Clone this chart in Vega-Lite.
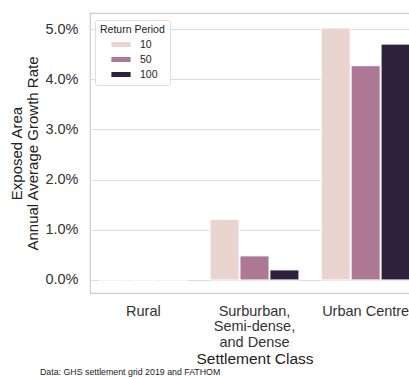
{
  "$schema": "https://vega.github.io/schema/vega-lite/v6.json",
  "autosize": "none",
  "width": 329,
  "height": 280,
  "padding": {"left": 90, "top": 13, "right": -10, "bottom": 84},
  "background": "white",
  "config": {
    "font": "Liberation Sans",
    "view": {"stroke": "#cccccc", "strokeWidth": 1.2},
    "axis": {"domain": false, "ticks": false, "gridColor": "#dddddd", "gridWidth": 1.2}
  },
  "title": {
    "text": "Data: GHS settlement grid 2019 and FATHOM",
    "orient": "bottom",
    "anchor": "start",
    "frame": "group",
    "fontSize": 8.8,
    "fontWeight": "normal",
    "color": "#222222",
    "dx": -50,
    "offset": 1
  },
  "data": {
    "values": [
      {"cls": "Rural", "rp": "10", "rate": 0},
      {"cls": "Rural", "rp": "50", "rate": 0},
      {"cls": "Rural", "rp": "100", "rate": 0},
      {"cls": "Surburban, Semi-dense, and Dense", "rp": "10", "rate": 0.0121},
      {"cls": "Surburban, Semi-dense, and Dense", "rp": "50", "rate": 0.0048},
      {"cls": "Surburban, Semi-dense, and Dense", "rp": "100", "rate": 0.0020},
      {"cls": "Urban Centre", "rp": "10", "rate": 0.0502},
      {"cls": "Urban Centre", "rp": "50", "rate": 0.0427},
      {"cls": "Urban Centre", "rp": "100", "rate": 0.0470}
    ]
  },
  "mark": {"type": "bar", "stroke": "white", "strokeWidth": 1},
  "encoding": {
    "x": {
      "field": "cls",
      "type": "nominal",
      "sort": ["Rural", "Surburban, Semi-dense, and Dense", "Urban Centre"],
      "scale": {"paddingInner": 0.2, "paddingOuter": 0.08},
      "axis": {
        "title": "Settlement Class",
        "titleFontSize": 15.5,
        "titleFontWeight": "normal",
        "titleColor": "#222222",
        "titlePadding": 3,
        "labelFontSize": 14.5,
        "labelColor": "#333333",
        "labelAngle": 0,
        "labelPadding": 11,
        "labelLineHeight": 15.5,
        "labelExpr": "datum.value == 'Surburban, Semi-dense, and Dense' ? ['Surburban,', 'Semi-dense,', 'and Dense'] : datum.label",
        "grid": false
      }
    },
    "xOffset": {
      "field": "rp",
      "type": "nominal",
      "sort": ["10", "50", "100"],
      "scale": {"paddingInner": 0.03}
    },
    "y": {
      "field": "rate",
      "type": "quantitative",
      "scale": {"domain": [-0.0026, 0.0532], "nice": false, "zero": false},
      "axis": {
        "title": ["Exposed Area", "Annual Average Growth Rate"],
        "titleFontSize": 15,
        "titleFontWeight": "normal",
        "titleColor": "#222222",
        "titleLineHeight": 16,
        "titlePadding": 4,
        "values": [0, 0.01, 0.02, 0.03, 0.04, 0.05],
        "format": ".1%",
        "labelFontSize": 14.5,
        "labelColor": "#333333",
        "labelPadding": 12
      }
    },
    "color": {
      "field": "rp",
      "type": "nominal",
      "sort": ["10", "50", "100"],
      "scale": {"domain": ["10", "50", "100"], "range": ["#e9d4d0", "#ac7894", "#2e213c"]},
      "legend": {
        "title": "Return Period",
        "orient": "none",
        "legendX": 5,
        "legendY": 7,
        "titleFontSize": 10.5,
        "titleFontWeight": "normal",
        "titleColor": "#222222",
        "titlePadding": 3,
        "labelFontSize": 10.5,
        "labelColor": "#222222",
        "symbolType": "M-1.6,-0.42H1.6V0.42H-1.6Z",
        "symbolSize": 144,
        "symbolStrokeWidth": 0,
        "symbolOffset": 15,
        "rowPadding": 3,
        "labelOffset": 13,
        "padding": 5,
        "fillColor": "white",
        "strokeColor": "#dddddd",
        "cornerRadius": 2
      }
    }
  }
}
